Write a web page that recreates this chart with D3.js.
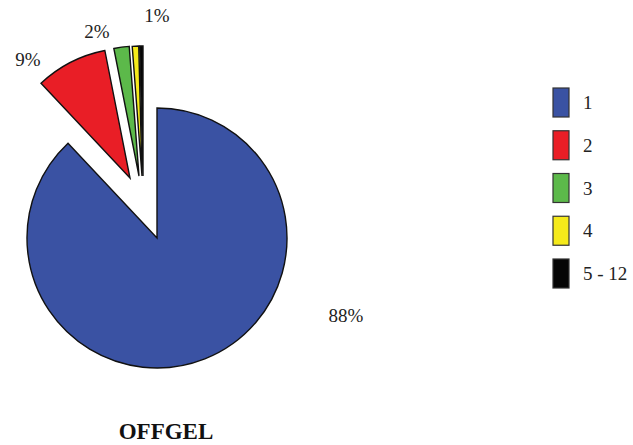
<!DOCTYPE html>
<html>
<head>
<meta charset="utf-8">
<script src="https://cdn.jsdelivr.net/npm/d3@7"></script>
<style>
  html, body { margin: 0; padding: 0; background: #fff; }
  svg { display: block; }
</style>
</head>
<body>
<svg id="chart" width="633" height="445"></svg>
<script>
// ---- data ----
const categories = ["1", "2", "3", "4", "5 - 12"];
const values = [88.0, 8.9, 1.9, 0.8, 0.4];
const valueLabels = ["88%", "9%", "2%", "1%", ""];
const title = "OFFGEL";

// ---- layout / style ----
const FONT = "'Liberation Serif', 'Times New Roman', 'DejaVu Serif', serif";
const colors = ["#3a52a3", "#e91e26", "#5cb94a", "#f5ea1b", "#050505"];
const cx = 157, cy = 238, radius = 130;
const explode = [[0, 0], [-27, -60], [-18, -62], [-15, -62], [-14, -62]];
// label anchor relative to pie centre
const labelOffset = [[189, 84], [-129, -172], [-60, -200], [0, -216], null];

const svg = d3.select("#chart");

const pie = d3.pie().sort(null).value(d => d)
  .startAngle(0).endAngle(2 * Math.PI);
const arcs = pie(values);
const arc = d3.arc().innerRadius(0).outerRadius(radius);

const g = svg.append("g").attr("transform", `translate(${cx},${cy})`);

g.selectAll("path.slice")
  .data(arcs)
  .join("path")
  .attr("class", "slice")
  .attr("transform", (d, i) => `translate(${explode[i][0]},${explode[i][1]})`)
  .attr("d", arc)
  .attr("fill", (d, i) => colors[i])
  .attr("stroke", "#111")
  .attr("stroke-width", 1.4)
  .attr("stroke-linejoin", "miter");

g.selectAll("text.pct")
  .data(arcs.filter((d, i) => labelOffset[i]))
  .join("text")
  .attr("class", "pct")
  .attr("x", d => labelOffset[d.index][0])
  .attr("y", d => labelOffset[d.index][1])
  .attr("text-anchor", "middle")
  .attr("font-family", FONT)
  .attr("fill", "#222")
  .attr("font-size", 19)
  .text(d => valueLabels[d.index]);

// legend
const legend = svg.append("g").attr("transform", "translate(553,88)");
const ly = d3.scalePoint().domain(categories).range([0, 171]);
const items = legend.selectAll("g.item")
  .data(categories)
  .join("g")
  .attr("class", "item")
  .attr("transform", d => `translate(0,${ly(d)})`);
items.append("rect")
  .attr("width", 16).attr("height", 29)
  .attr("fill", (d, i) => colors[i])
  .attr("stroke", "#333").attr("stroke-width", 1.2);
items.append("text")
  .attr("x", 30).attr("y", 21)
  .attr("font-family", FONT)
  .attr("fill", "#222")
  .attr("font-size", 19)
  .text(d => d);

svg.append("text")
  .attr("x", 166).attr("y", 439)
  .attr("text-anchor", "middle")
  .attr("font-family", FONT)
  .attr("fill", "#111")
  .attr("font-size", 23)
  .attr("font-weight", "bold")
  .text(title);
</script>
</body>
</html>
